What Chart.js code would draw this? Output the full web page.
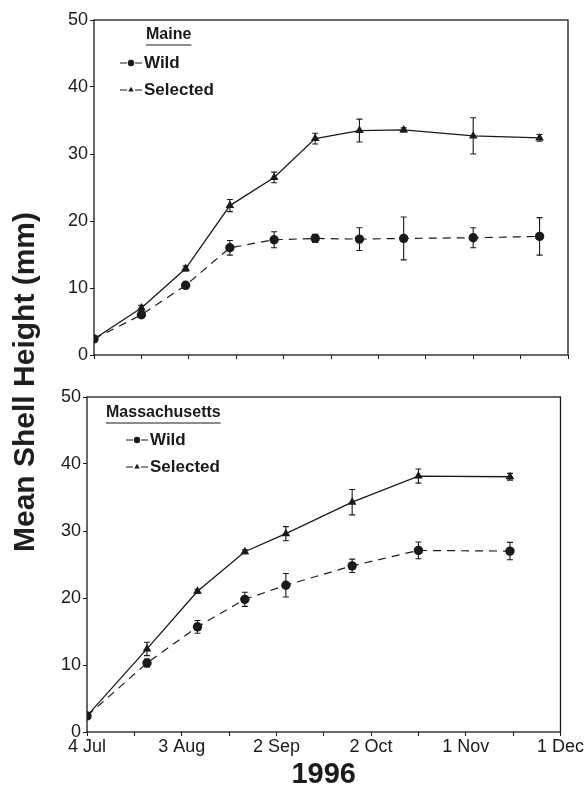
<!DOCTYPE html>
<html>
<head>
<meta charset="utf-8">
<script src="https://cdn.jsdelivr.net/npm/chart.js@4"></script>
<style>
  body { margin: 0; background: #fff; }
  #wrap { position: relative; width: 584px; height: 788px; }
  canvas { position: absolute; left: 0; }
  #ytitle {
    position: absolute; left: 24px; top: 382px;
    transform: translate(-50%, -50%) rotate(-90deg);
    font: bold 30px "Liberation Sans", Arial, sans-serif;
    color: #1e1e1e; white-space: nowrap;
  }
</style>
</head>
<body>
<div id="wrap">
  <canvas id="maine" width="584" height="380" style="top:0"></canvas>
  <canvas id="mass" width="584" height="408" style="top:380px"></canvas>
  <div id="ytitle">Mean Shell Height (mm)</div>
</div>
<script>
// days after 4 Jul 1996
var xTickDays = [0, 30, 60, 90, 120, 150];
var xTickLabels = ['4 Jul', '3 Aug', '2 Sep', '2 Oct', '1 Nov', '1 Dec'];

var maineDays = [0, 15, 29, 43, 57, 70, 84, 98, 120, 141];
var maineWild = [2.4, 6.0, 10.4, 16.0, 17.2, 17.4, 17.3, 17.4, 17.5, 17.7];
var maineWildErr = [0, 0.3, 0.3, 1.1, 1.2, 0.6, 1.7, 3.2, 1.5, 2.8];
var maineSelected = [2.4, 7.0, 12.9, 22.3, 26.5, 32.3, 33.5, 33.6, 32.7, 32.4];
var maineSelectedErr = [0, 0.4, 0.4, 0.9, 0.8, 0.8, 1.7, 0.3, 2.7, 0.5];

var massDays = [0, 19, 35, 50, 63, 84, 105, 134];
var massWild = [2.4, 10.3, 15.7, 19.8, 21.9, 24.8, 27.1, 27.0];
var massWildErr = [0, 0.6, 0.95, 1.05, 1.75, 1.0, 1.25, 1.3];
var massSelected = [2.4, 12.4, 21.0, 26.9, 29.6, 34.3, 38.2, 38.1];
var massSelectedErr = [0, 1.0, 0.3, 0.3, 1.05, 1.9, 1.05, 0.5];

var ink = '#1a1a1a';
var font = '"Liberation Sans", Arial, sans-serif';

function pts(days, vals) {
    return days.map(function (d, i) { return { x: d, y: vals[i] }; });
}

function makeSets(days, wild, wildErr, sel, selErr) {
    return [{
        label: 'Wild',
        data: pts(days, wild),
        errors: wildErr,
        borderColor: ink,
        backgroundColor: ink,
        borderWidth: 1.2,
        borderDash: [8, 6],
        pointStyle: 'circle',
        pointRadius: 4.7,
        pointBorderWidth: 0
    }, {
        label: 'Selected',
        data: pts(days, sel),
        errors: selErr,
        borderColor: ink,
        backgroundColor: ink,
        borderWidth: 1.3,
        pointStyle: 'triangle',
        pointRadius: 5,
        pointBorderWidth: 0
    }];
}

// box around plot + error bars
var extras = {
    id: 'extras',
    beforeDatasetsDraw: function (chart) {
        var c = chart.ctx, a = chart.chartArea;
        var xs = chart.scales.x, ys = chart.scales.y;
        c.save();
        c.setLineDash([]);
        c.strokeStyle = ink;
        c.lineWidth = 1.3;
        c.strokeRect(a.left, a.top, a.right - a.left, a.bottom - a.top);
        c.lineWidth = 1.1;
        chart.data.datasets.forEach(function (ds) {
            ds.data.forEach(function (p, i) {
                var e = ds.errors[i];
                if (!e || e < 0.2) return;
                var x = xs.getPixelForValue(p.x);
                var y1 = ys.getPixelForValue(p.y + e);
                var y2 = ys.getPixelForValue(p.y - e);
                c.beginPath();
                c.moveTo(x, y1); c.lineTo(x, y2);
                c.moveTo(x - 3, y1); c.lineTo(x + 3, y1);
                c.moveTo(x - 3, y2); c.lineTo(x + 3, y2);
                c.stroke();
            });
        });
        c.restore();
    }
};

// site title + legend inside the plot
var panelLegend = {
    id: 'panelLegend',
    afterDraw: function (chart, args, o) {
        var c = chart.ctx, a = chart.chartArea;
        c.save();
        c.setLineDash([]);
        c.fillStyle = ink;
        c.strokeStyle = ink;
        c.textBaseline = 'middle';
        c.font = 'bold 16px ' + font;
        var tx = a.left + o.titleX, ty = a.top + o.titleY;
        c.fillText(o.title, tx, ty);
        var w = c.measureText(o.title).width;
        c.lineWidth = 1.2;
        c.beginPath();
        c.moveTo(tx, ty + 10); c.lineTo(tx + w, ty + 10);
        c.stroke();
        c.font = 'bold 17px ' + font;
        chart.data.datasets.forEach(function (ds, i) {
            var mx = a.left + o.markerX, my = a.top + o.rows[i];
            c.lineWidth = 1.1;
            c.beginPath();
            c.moveTo(mx - 11, my); c.lineTo(mx - 4, my);
            c.moveTo(mx + 4, my); c.lineTo(mx + 11, my);
            c.stroke();
            Chart.helpers.drawPoint(c, { pointStyle: ds.pointStyle, radius: 3.2, rotation: 0, borderWidth: 0 }, mx, my);
            c.fillText(ds.label, a.left + o.textX, my);
        });
        c.restore();
    }
};

function makeOptions(yWidth, xHeight, pad, showX, legend) {
    return {
        responsive: false,
        animation: false,
        layout: { padding: pad },
        plugins: {
            legend: { display: false },
            tooltip: { enabled: false },
            panelLegend: legend
        },
        scales: {
            x: {
                type: 'linear',
                min: 0, max: 150,
                afterFit: function (s) { s.height = xHeight; },
                grid: { drawOnChartArea: false, tickLength: 4, color: ink, tickWidth: 1 },
                border: { display: false },
                ticks: {
                    display: showX,
                    stepSize: 15,
                    padding: 0,
                    maxRotation: 0,
                    autoSkip: false,
                    color: ink,
                    font: { family: font, size: 18 },
                    callback: function (v) {
                        var i = xTickDays.indexOf(v);
                        return i >= 0 ? xTickLabels[i] : '';
                    }
                },
                title: {
                    display: showX,
                    text: '1996',
                    color: ink,
                    padding: { top: 0, bottom: -4 },
                    font: { family: font, size: 29, weight: 'bold' }
                }
            },
            y: {
                min: 0, max: 50,
                afterFit: function (s) { s.width = yWidth; },
                grid: { drawOnChartArea: false, tickLength: 4, color: ink, tickWidth: 1 },
                border: { display: false },
                ticks: {
                    stepSize: 10,
                    padding: 2,
                    color: ink,
                    font: { family: font, size: 18 }
                }
            }
        }
    };
}

new Chart(document.getElementById('maine'), {
    type: 'line',
    data: { datasets: makeSets(maineDays, maineWild, maineWildErr, maineSelected, maineSelectedErr) },
    options: makeOptions(94, 25, { left: 0, top: 20, right: 16, bottom: 0 }, false,
        { title: 'Maine', titleX: 52, titleY: 15, markerX: 37, textX: 50, rows: [43, 70] }),
    plugins: [extras, panelLegend]
});

new Chart(document.getElementById('mass'), {
    type: 'line',
    data: { datasets: makeSets(massDays, massWild, massWildErr, massSelected, massSelectedErr) },
    options: makeOptions(87, 56, { left: 0, top: 17, right: 23, bottom: 0 }, true,
        { title: 'Massachusetts', titleX: 19, titleY: 16, markerX: 50, textX: 63, rows: [43, 70] }),
    plugins: [extras, panelLegend]
});
</script>
</body>
</html>
